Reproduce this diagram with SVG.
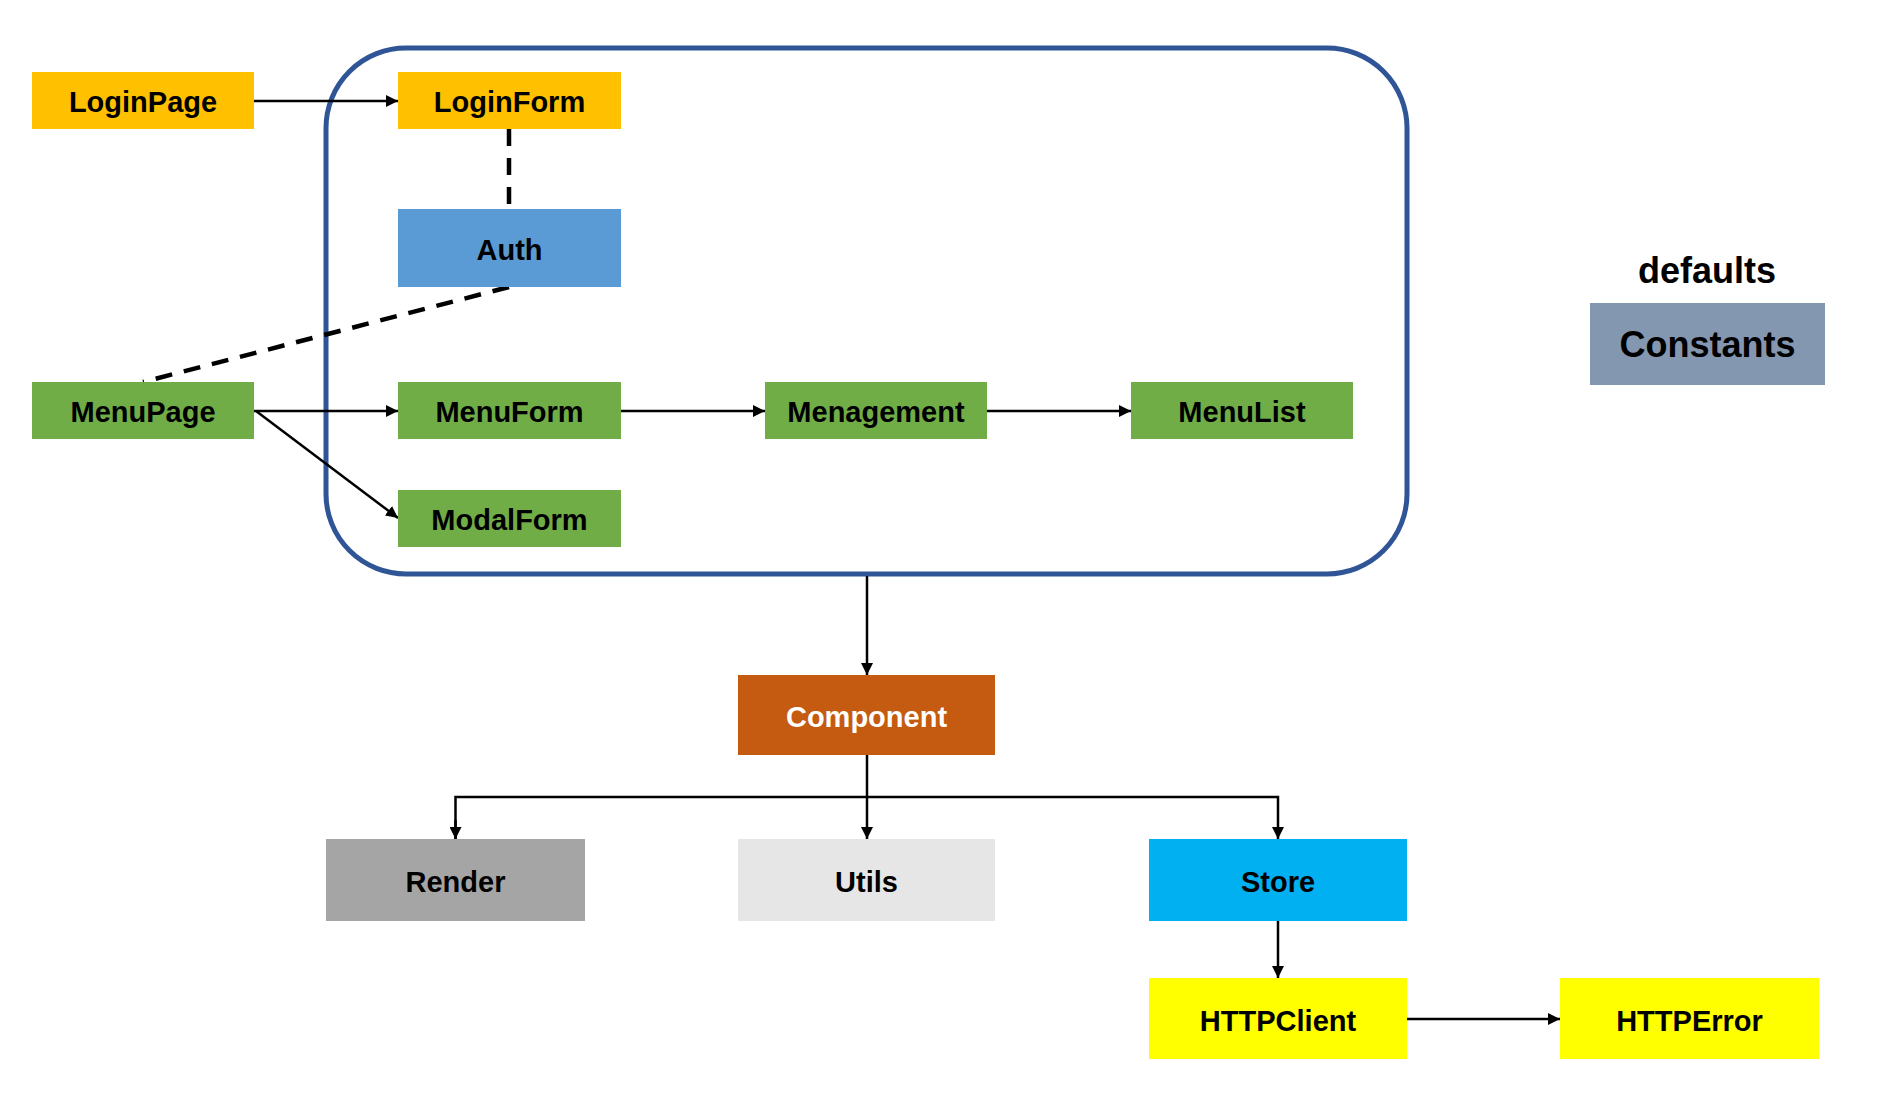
<svg xmlns="http://www.w3.org/2000/svg" width="1882" height="1104" viewBox="0 0 1882 1104">
<defs>
<style>
.lbl{font-family:"Liberation Sans",Arial,sans-serif;font-weight:bold;font-size:29px;text-anchor:middle;fill:#000}
.big{font-family:"Liberation Sans",Arial,sans-serif;font-weight:bold;font-size:36px;text-anchor:middle;fill:#000}
.ln{fill:none;stroke:#000;stroke-width:2.5}
.dash{fill:none;stroke:#000;stroke-width:4.5;stroke-dasharray:17,12}
</style>
<marker id="ah" viewBox="0 0 12 12" refX="12" refY="6" markerWidth="12" markerHeight="12" markerUnits="userSpaceOnUse" orient="auto">
<path d="M0,0 L12,6 L0,12 Z" fill="#000"/>
</marker>
</defs>
<rect width="1882" height="1104" fill="#fff"/>
<g id="container">
<rect x="326" y="48" width="1081" height="526" rx="80" ry="80" fill="none" stroke="#2F5597" stroke-width="5"/>
</g>
<g id="connectors">
<line class="ln" x1="254" y1="101" x2="398" y2="101" marker-end="url(#ah)"/>
<line class="dash" x1="509" y1="129" x2="509" y2="209"/>
<line class="dash" x1="509" y1="287" x2="143" y2="382" stroke-dasharray="17,10.77"/>
<line class="ln" x1="254" y1="411" x2="398" y2="411" marker-end="url(#ah)"/>
<line class="ln" x1="256" y1="411" x2="398" y2="518" marker-end="url(#ah)"/>
<line class="ln" x1="621" y1="411" x2="765" y2="411" marker-end="url(#ah)"/>
<line class="ln" x1="987" y1="411" x2="1131" y2="411" marker-end="url(#ah)"/>
<line class="ln" x1="867" y1="576" x2="867" y2="675" marker-end="url(#ah)"/>
<line class="ln" x1="867" y1="755" x2="867" y2="839" marker-end="url(#ah)"/>
<path class="ln" d="M455.5,839 V797 H1278 V839" stroke-width="3" marker-end="url(#ah)"/>
<line class="ln" x1="455.5" y1="820" x2="455.5" y2="839" marker-end="url(#ah)"/>
<line class="ln" x1="1278" y1="921" x2="1278" y2="978" marker-end="url(#ah)"/>
<line class="ln" x1="1407" y1="1019" x2="1560" y2="1019" marker-end="url(#ah)"/>
</g>
<g id="LoginPage"><rect x="32" y="72" width="222" height="57" fill="#FFC000"/><text class="lbl" x="143" y="112">LoginPage</text></g>
<g id="LoginForm"><rect x="398" y="72" width="223" height="57" fill="#FFC000"/><text class="lbl" x="509.5" y="112">LoginForm</text></g>
<g id="Auth"><rect x="398" y="209" width="223" height="78" fill="#5B9BD5"/><text class="lbl" x="509.5" y="259.5">Auth</text></g>
<g id="MenuPage"><rect x="32" y="382" width="222" height="57" fill="#70AD47"/><text class="lbl" x="143" y="422">MenuPage</text></g>
<g id="MenuForm"><rect x="398" y="382" width="223" height="57" fill="#70AD47"/><text class="lbl" x="509.5" y="422">MenuForm</text></g>
<g id="Menagement"><rect x="765" y="382" width="222" height="57" fill="#70AD47"/><text class="lbl" x="876" y="422">Menagement</text></g>
<g id="MenuList"><rect x="1131" y="382" width="222" height="57" fill="#70AD47"/><text class="lbl" x="1242" y="422">MenuList</text></g>
<g id="ModalForm"><rect x="398" y="490" width="223" height="57" fill="#70AD47"/><text class="lbl" x="509.5" y="530">ModalForm</text></g>
<g id="defaults"><text class="big" x="1707" y="283">defaults</text></g>
<g id="Constants"><rect x="1590" y="303" width="235" height="82" fill="#8497B0"/><text class="big" x="1707.5" y="357">Constants</text></g>
<g id="Component"><rect x="738" y="675" width="257" height="80" fill="#C55A11"/><text class="lbl" x="866.5" y="726.5" style="fill:#fff">Component</text></g>
<g id="Render"><rect x="326" y="839" width="259" height="82" fill="#A5A5A5"/><text class="lbl" x="455.5" y="891.5">Render</text></g>
<g id="Utils"><rect x="738" y="839" width="257" height="82" fill="#E7E6E6"/><text class="lbl" x="866.5" y="891.5">Utils</text></g>
<g id="Store"><rect x="1149" y="839" width="258" height="82" fill="#00B0F0"/><text class="lbl" x="1278" y="891.5">Store</text></g>
<g id="HTTPClient"><rect x="1149" y="978" width="258" height="81" fill="#FFFF00"/><text class="lbl" x="1278" y="1030.5">HTTPClient</text></g>
<g id="HTTPError"><rect x="1560" y="978" width="259" height="81" fill="#FFFF00"/><text class="lbl" x="1689.5" y="1030.5">HTTPError</text></g>
</svg>
